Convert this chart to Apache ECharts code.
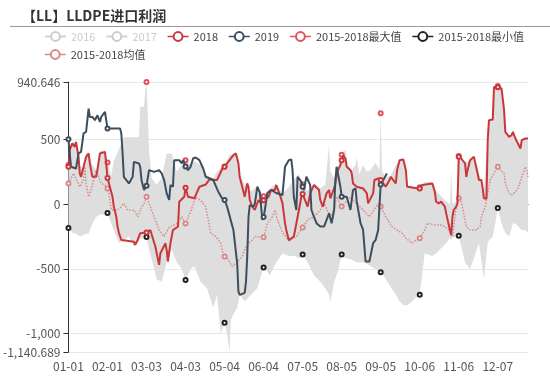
<!DOCTYPE html>
<html><head><meta charset="utf-8">
<script src="https://cdn.jsdelivr.net/npm/echarts@6/dist/echarts.min.js"></script>
<style>html,body{margin:0;padding:0;background:#fff}#c{width:550px;height:391px}</style>
</head><body><div id="c"></div><script>
// calendar categories (leap-year style, 366 days)
const monthDays = [31,29,31,30,31,30,31,31,30,31,30,31];
const categories = [];
monthDays.forEach((n, m) => { for (let d = 1; d <= n; d++) categories.push(String(m + 1).padStart(2, '0') + '-' + String(d).padStart(2, '0')); });

const titleText = '【LL】LLDPE进口利润';
const legendRow1 = ['2016','2017','2018','2019','2015-2018最大值','2015-2018最小值'];
const legendRow2 = ['2015-2018均值'];
const yMin = -1140.689, yMax = 940.646;

// [dayIndex, value]
const s2016 = [];
const s2017 = [];
const s2018 = [[0,287],[1,415],[3,467],[5,441],[6,479],[8,364],[9,236],[10,210],[14,364],[16,390],[17,313],[18,261],[19,210],[22,210],[23,261],[25,390],[26,402],[29,402],[30,313],[31,200],[32,185],[35,56],[36,-20],[38,-98],[39,-174],[40,-220],[42,-277],[52,-290],[53,-315],[55,-277],[57,-225],[62,-220],[65,-200],[69,-328],[72,-469],[73,-379],[77,-302],[78,-354],[79,-443],[81,-302],[82,-251],[83,-200],[87,-174],[88,18],[92,56],[93,125],[95,56],[100,44],[104,133],[109,150],[112,190],[116,185],[118,185],[123,287],[124,287],[126,313],[131,377],[133,390],[135,313],[136,210],[140,56],[142,159],[143,133],[144,31],[146,-20],[148,-46],[151,31],[153,5],[155,30],[159,56],[161,108],[164,108],[165,146],[168,69],[170,5],[172,-148],[173,-200],[175,-280],[179,-250],[182,-100],[185,56],[186,77],[190,-20],[192,82],[195,146],[199,108],[200,31],[202,-20],[205,82],[207,108],[208,44],[211,120],[212,159],[213,223],[214,261],[216,300],[217,338],[218,377],[220,351],[221,287],[224,261],[225,236],[226,159],[229,133],[234,120],[237,82],[238,5],[242,82],[243,185],[246,197],[248,185],[250,159],[252,133],[255,185],[256,210],[260,159],[261,261],[263,338],[266,344],[268,261],[269,133],[278,120],[279,120],[281,146],[289,159],[291,95],[292,18],[294,5],[296,18],[299,-20],[300,-72],[303,-200],[304,-240],[305,-98],[306,-46],[308,-20],[309,5],[310,364],[312,351],[315,313],[316,210],[317,261],[319,338],[322,364],[325,236],[326,185],[328,185],[329,120],[330,44],[332,40],[333,492],[334,646],[337,651],[338,902],[339,915],[341,900],[344,890],[346,723],[347,556],[350,518],[352,530],[353,556],[355,505],[359,428],[360,492],[363,505],[365,505]];
const s2019 = [[0,500],[2,287],[6,274],[8,390],[10,402],[12,544],[14,556],[16,736],[17,671],[19,671],[21,646],[23,684],[25,633],[26,671],[29,710],[30,646],[31,582],[41,582],[42,544],[43,390],[44,210],[48,159],[51,210],[52,325],[56,313],[57,287],[58,185],[60,108],[62,140],[64,261],[68,248],[72,261],[74,236],[76,185],[78,82],[80,31],[81,146],[83,133],[84,338],[88,338],[90,313],[91,338],[93,290],[95,261],[97,287],[99,351],[101,359],[104,338],[107,274],[109,210],[115,185],[119,95],[122,45],[124,31],[126,-20],[131,-200],[134,-455],[135,-674],[136,-700],[140,-685],[141,-600],[142,-400],[143,-100],[144,-8],[147,-20],[148,0],[150,133],[152,90],[154,-123],[155,-100],[156,-46],[158,85],[161,108],[162,120],[165,85],[170,69],[172,287],[173,300],[175,338],[177,344],[178,261],[179,56],[181,-46],[182,210],[183,223],[185,171],[186,133],[187,108],[189,210],[190,197],[192,146],[193,-46],[195,-98],[197,-148],[200,-174],[203,-174],[207,-72],[209,-148],[211,-46],[212,185],[213,287],[216,133],[217,56],[221,56],[224,-46],[226,108],[228,120],[229,18],[232,-148],[234,-200],[236,-443],[239,-443],[242,-302],[244,-277],[246,-200],[248,150],[250,185],[253,236]];
const sMean = [[0,159],[4,236],[9,133],[12,185],[13,287],[14,159],[16,56],[19,146],[22,261],[26,159],[29,146],[31,120],[32,95],[34,-46],[39,-46],[42,-20],[44,5],[47,-46],[52,-46],[55,-98],[57,-46],[60,5],[62,56],[68,-98],[72,-200],[76,-250],[80,-180],[86,-150],[90,-100],[93,-150],[97,-60],[101,50],[105,30],[109,-20],[113,-225],[117,-251],[121,-302],[123,-392],[124,-405],[127,-430],[130,-482],[133,-456],[138,-405],[140,-354],[143,-302],[146,-277],[148,-251],[155,-256],[158,-150],[162,-98],[164,-46],[166,-123],[170,-220],[175,-280],[181,-250],[186,-180],[190,-123],[195,-98],[200,-46],[203,5],[208,-98],[211,-46],[213,56],[217,-20],[224,56],[229,5],[234,-46],[239,-98],[246,5],[248,-20],[252,-98],[257,-174],[265,-225],[268,-264],[273,-302],[276,-277],[279,-264],[283,-200],[285,-148],[291,-161],[295,-161],[299,-174],[302,-200],[305,-250],[308,-20],[310,44],[312,20],[316,-174],[319,-200],[324,-200],[327,-174],[328,-98],[331,-20],[333,82],[335,185],[338,236],[341,287],[343,261],[346,236],[347,159],[350,82],[352,69],[355,95],[357,120],[360,210],[363,287],[364,261],[365,210]];

// 2015-2018 range (min / max) at shared day indices
const bandIdx = [0,3,6,9,12,14,16,19,22,25,29,31,34,36,40,44,48,52,56,57,60,61,62,63,64,66,70,74,78,82,86,90,93,97,100,105,110,115,118,121,124,126,128,129,131,134,136,140,145,150,155,160,165,170,175,180,183,186,190,195,200,204,207,208,211,214,217,220,222,225,228,229,231,234,237,240,244,247,248,249,252,256,260,263,266,269,272,276,279,283,289,292,296,300,303,304,305,308,310,315,319,322,326,330,333,334,337,338,339,341,344,346,347,350,353,355,359,360,363,365];
const bandMin = [-185,-220,-230,-250,-240,-230,-230,-150,-100,-80,-80,-70,-150,-200,-300,-280,-250,-330,-280,-270,-260,-260,-255,-300,-350,-420,-580,-600,-450,-350,-450,-500,-585,-500,-480,-600,-650,-800,-700,-1000,-915,-1000,-1140,-900,-850,-800,-700,-750,-700,-650,-490,-550,-450,-380,-400,-400,-420,-390,-450,-550,-600,-650,-700,-760,-600,-520,-390,-420,-420,-430,-450,-450,-450,-450,-460,-480,-500,-520,-525,-530,-580,-640,-700,-750,-780,-780,-760,-720,-700,-380,-400,-380,-340,-300,-260,-280,-260,-250,-245,-450,-500,-420,-300,-580,-300,-280,-250,-200,-150,-30,-150,-200,-220,-250,-150,-150,-200,-200,-200,-220];
const bandMax = [300,470,480,300,260,380,400,300,260,410,410,320,220,330,420,515,515,515,515,750,750,860,940,700,420,200,150,200,390,390,250,300,338,300,330,300,220,200,250,280,290,340,380,385,380,390,220,150,100,140,60,120,160,80,130,200,230,150,100,160,120,150,460,250,200,270,380,420,300,260,300,360,230,300,250,260,320,260,700,260,200,220,300,340,350,150,140,130,130,170,170,100,60,20,0,260,0,20,370,320,340,370,240,120,500,650,660,910,920,910,900,730,560,520,560,510,430,500,510,510];

const minData = bandIdx.map((x, i) => [x, bandMin[i]]);
const maxData = bandIdx.map((x, i) => [x, bandMax[i]]);
const bandSpan = bandIdx.map((x, i) => [x, bandMax[i] - bandMin[i]]);

const chart = echarts.init(document.getElementById('c'), null, { renderer: 'canvas' });
const font = '"Noto Sans CJK SC", "Noto Sans", sans-serif';
const lineCommon = { type: 'line', xAxisIndex: 0, symbol: 'emptyCircle', symbolSize: 4, itemStyle: { borderWidth: 1.2 }, animation: false };
const legendCommon = { left: 39, itemWidth: 21, itemHeight: 11, itemGap: 10, width: 505, inactiveColor: '#ccc',
  lineStyle: { opacity: 1, width: 1.5, type: 'solid' }, textStyle: { fontSize: 11, color: '#444', fontFamily: font } };
chart.setOption({
  animation: false,
  textStyle: { fontFamily: font },
  title: { text: titleText, left: 17, top: 4, textStyle: { fontSize: 14, fontWeight: 'bold', color: '#333', fontFamily: font } },
  graphic: [{ type: 'line', shape: { x1: 10, y1: 26.5, x2: 550, y2: 26.5 }, style: { stroke: '#9a9a9a', lineWidth: 1 } }],
  legend: [
    Object.assign({}, legendCommon, { data: legendRow1, top: 26, selected: { '2016': false, '2017': false } }),
    Object.assign({}, legendCommon, { data: legendRow2, top: 44 })
  ],
  grid: { left: 60, right: 22, top: 82, bottom: 39, containLabel: false },
  xAxis: [
    { type: 'category', data: categories, boundaryGap: false, position: 'bottom',
      axisLine: { show: false, onZero: false }, axisTick: { show: false },
      axisLabel: { interval: 30, color: '#555', fontSize: 12, margin: 8 }, splitLine: { show: false } },
    { type: 'category', data: categories, boundaryGap: false, position: 'bottom',
      axisLine: { show: true, onZero: true, lineStyle: { color: '#333', width: 1 } },
      axisTick: { show: true, length: 4, interval: (i) => i % 31 === 17, lineStyle: { color: '#333' } },
      axisLabel: { show: false }, splitLine: { show: false } }
  ],
  yAxis: { type: 'value', min: yMin, max: yMax,
    axisLine: { show: true, lineStyle: { color: '#333' } },
    axisTick: { show: true, length: 5 },
    axisLabel: { color: '#555', fontSize: 12, margin: 8 },
    splitLine: { lineStyle: { color: '#e8e8e8' } } },
  series: [
    Object.assign({}, lineCommon, { name: '2016', data: s2016, color: '#999' }),
    Object.assign({}, lineCommon, { name: '2017', data: s2017, color: '#aaa' }),
    Object.assign({}, lineCommon, { name: '2018', data: s2018, color: '#c9373b', lineStyle: { width: 2 }, z: 4 }),
    Object.assign({}, lineCommon, { name: '2019', data: s2019, color: '#3d4f5e', lineStyle: { width: 2 }, z: 4 }),
    Object.assign({}, lineCommon, { name: '2015-2018最大值', data: maxData, color: '#e3515b', lineStyle: { opacity: 0 }, z: 3 }),
    Object.assign({}, lineCommon, { name: '2015-2018最小值', data: minData, color: '#222', lineStyle: { opacity: 0 }, stack: 'band', stackStrategy: 'all', z: 3 }),
    Object.assign({}, lineCommon, { name: '2015-2018均值', data: sMean, color: '#d98a8a', lineStyle: { type: 'dotted', width: 1.5 }, z: 3 }),
    { type: 'line', name: 'band', data: bandSpan, stack: 'band', stackStrategy: 'all', showSymbol: false, symbol: 'none',
      lineStyle: { opacity: 0 }, areaStyle: { color: '#dedede', opacity: 1 }, z: 1, silent: true, animation: false }
  ]
});
</script></body></html>
